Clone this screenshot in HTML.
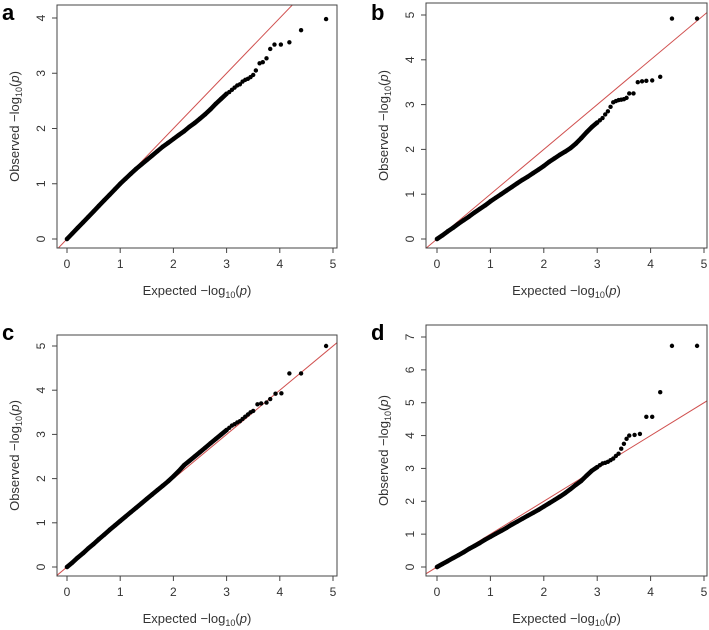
<!DOCTYPE html>
<html><head><meta charset="utf-8">
<style>
html,body{margin:0;padding:0;background:#fff;}
svg{display:block;font-family:"Liberation Sans",sans-serif;}
</style></head>
<body>
<svg id="fig" width="709" height="630" viewBox="0 0 709 630"></svg>
<script>
// Shared dense expected values
const denseX = [0,0.1,0.2,0.3,0.4,0.5,0.6,0.7,0.8,0.9,1.0,1.1,1.2,1.3,1.4,1.5,1.6,1.7,1.8,1.9,2.0,2.1,2.2,2.3,2.4,2.5,2.6,2.7,2.8,2.9,3.0];
// Panel a
const aObsDense = [0,0.1,0.2,0.3,0.4,0.5,0.6,0.7,0.8,0.9,1.0,1.09,1.18,1.27,1.35,1.43,1.51,1.59,1.67,1.74,1.81,1.88,1.95,2.03,2.1,2.18,2.26,2.35,2.45,2.54,2.63];
const aTailX = [3.05,3.1,3.15,3.2,3.25,3.3,3.35,3.4,3.45,3.5,3.55,3.62,3.68,3.75,3.82,3.9,4.02,4.18,4.4,4.87];
const aTailY = [2.66,2.7,2.74,2.78,2.8,2.85,2.88,2.9,2.93,2.97,3.05,3.18,3.2,3.27,3.44,3.52,3.52,3.56,3.78,3.98];
// Panel b
const bObsDense = [0,0.08,0.17,0.25,0.34,0.42,0.5,0.59,0.67,0.75,0.84,0.92,1.0,1.08,1.16,1.24,1.32,1.39,1.47,1.55,1.63,1.72,1.8,1.88,1.95,2.03,2.13,2.25,2.38,2.5,2.6];
const bTailX = [3.05,3.1,3.15,3.2,3.25,3.3,3.35,3.4,3.45,3.5,3.55,3.6,3.68,3.76,3.84,3.92,4.03,4.18,4.4,4.87];
const bTailY = [2.65,2.7,2.78,2.85,2.95,3.05,3.08,3.1,3.11,3.12,3.15,3.25,3.25,3.5,3.52,3.53,3.54,3.62,4.92,4.92];
// Panel c
const cObsDense = [0,0.1,0.21,0.31,0.42,0.52,0.63,0.73,0.84,0.94,1.04,1.14,1.24,1.34,1.44,1.54,1.64,1.74,1.84,1.94,2.05,2.17,2.3,2.4,2.5,2.6,2.7,2.8,2.9,3.0,3.1];
const cTailX = [3.05,3.1,3.15,3.2,3.25,3.3,3.35,3.4,3.45,3.5,3.58,3.65,3.75,3.82,3.92,4.03,4.18,4.4,4.87];
const cTailY = [3.15,3.2,3.23,3.27,3.3,3.35,3.4,3.45,3.5,3.53,3.68,3.7,3.72,3.8,3.92,3.93,4.38,4.38,5.0];
// Panel d
const dObsDense = [0,0.09,0.18,0.27,0.36,0.45,0.55,0.64,0.73,0.83,0.92,1.01,1.1,1.19,1.29,1.38,1.47,1.56,1.65,1.74,1.84,1.94,2.04,2.14,2.25,2.37,2.5,2.62,2.78,2.93,3.04];
const dTailX = [3.05,3.1,3.15,3.2,3.25,3.3,3.35,3.4,3.45,3.5,3.55,3.6,3.7,3.8,3.92,4.03,4.18,4.4,4.87];
const dTailY = [3.1,3.15,3.17,3.2,3.25,3.3,3.38,3.45,3.6,3.75,3.9,4.0,4.02,4.05,4.57,4.57,5.32,6.73,6.73];
const xTicks = [0,1,2,3,4,5];

const NS='http://www.w3.org/2000/svg';
const svg=document.getElementById('fig');
function mk(tag,attrs,parent){const e=document.createElementNS(NS,tag);for(const k in attrs)e.setAttribute(k,attrs[k]);(parent||svg).appendChild(e);return e;}

function panel(cfg){
  const g=mk('g',{});
  
  
  const sx=v=>cfg.x0+(cfg.x5-cfg.x0)*v/5;
  const sy=v=>cfg.y0-(cfg.y0-cfg.yTop)*v/cfg.yTopVal;
  const clipId='clip'+cfg.letter;
  const cp=mk('clipPath',{id:clipId},g);
  mk('rect',{x:cfg.L,y:cfg.T,width:cfg.R-cfg.L,height:cfg.B-cfg.T},cp);
  const dl=mk('line',{x1:sx(-1),y1:sy(-1),x2:sx(9),y2:sy(9),stroke:'#d0504f','stroke-width':1,'clip-path':'url(#'+clipId+')'},g);
  
  
  const xs=denseX.concat(cfg.tx), ys=cfg.dense.concat(cfg.ty);
  let pts=denseX.map((x,i)=>sx(x).toFixed(1)+','+sy(cfg.dense[i]).toFixed(1)).join(' ');
  const pl=mk('polyline',{points:pts,fill:'none',stroke:'#000','stroke-width':4.5,'stroke-linecap':'round','stroke-linejoin':'round'},g);
  
  
  for(let i=0;i<xs.length;i++){
    const c=mk('circle',{cx:sx(xs[i]),cy:sy(ys[i]),r:2.2,fill:'#000'},g);
    
    
  }
  const bx=mk('rect',{x:cfg.L,y:cfg.T,width:cfg.R-cfg.L,height:cfg.B-cfg.T,fill:'none',stroke:'#444','stroke-width':1},g);
  
  
  xTicks.forEach(t=>{
    mk('line',{x1:sx(t),y1:cfg.B,x2:sx(t),y2:cfg.B+5,stroke:'#444'},g);
    const tx=mk('text',{x:sx(t),y:cfg.B+20,'text-anchor':'middle','font-size':12,fill:'#333'},g);
    tx.textContent=t;
    
    
  });
  for(let t=0;t<=cfg.yTopVal;t++){
    mk('line',{x1:cfg.L,y1:sy(t),x2:cfg.L-5,y2:sy(t),stroke:'#444'},g);
    const tx=mk('text',{x:cfg.L-12,y:sy(t),'text-anchor':'middle','font-size':12,fill:'#333',transform:'rotate(-90 '+(cfg.L-12)+' '+sy(t)+')'},g);
    tx.textContent=t;
    
    
  }
  const xt=mk('text',{x:(cfg.L+cfg.R)/2,y:cfg.B+47,'text-anchor':'middle','font-size':13,fill:'#333'},g);
  xt.innerHTML='Expected  \u2212log<tspan font-size="9" dy="3">10</tspan><tspan dy="-3">(</tspan><tspan font-style="italic">p</tspan>)';
  
  
  const yx=cfg.L-38, yy=(cfg.T+cfg.B)/2;
  const yt=mk('text',{x:yx,y:yy,'text-anchor':'middle','font-size':13,fill:'#333',transform:'rotate(-90 '+yx+' '+yy+')'},g);
  yt.innerHTML='Observed  \u2212log<tspan font-size="9" dy="3">10</tspan><tspan dy="-3">(</tspan><tspan font-style="italic">p</tspan>)';
  
  
  const lt=mk('text',{x:cfg.lx,y:cfg.ly,'font-size':22,'font-weight':'bold',fill:'#000'},g);
  lt.textContent=cfg.letter;
  
  
}
panel({letter:'a',L:57,R:337,T:5,B:248,x0:67,x5:333,y0:239,yTop:18,yTopVal:4,dense:aObsDense,tx:aTailX,ty:aTailY,lx:2,ly:20});
panel({letter:'b',L:426,R:707,T:3,B:248,x0:437,x5:704,y0:239,yTop:15,yTopVal:5,dense:bObsDense,tx:bTailX,ty:bTailY,lx:371,ly:20});
panel({letter:'c',L:57,R:337,T:335,B:576,x0:67,x5:333,y0:567,yTop:346,yTopVal:5,dense:cObsDense,tx:cTailX,ty:cTailY,lx:2,ly:340});
panel({letter:'d',L:426,R:707,T:325,B:576,x0:437,x5:704,y0:567,yTop:337,yTopVal:7,dense:dObsDense,tx:dTailX,ty:dTailY,lx:371,ly:340});
</script>
</body></html>
